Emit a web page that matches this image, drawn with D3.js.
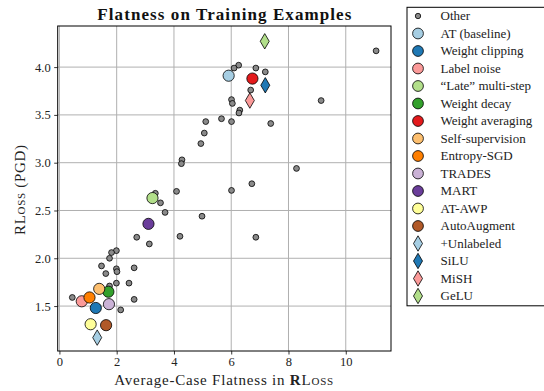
<!DOCTYPE html>
<html>
<head>
<meta charset="utf-8">
<script src="https://cdn.jsdelivr.net/npm/d3@7"></script>
<style>
  html, body { margin: 0; padding: 0; background: #fff; }
  svg { display: block; }
  svg text { font-family: "Liberation Serif", "Times New Roman", serif; }
</style>
</head>
<body>
<svg id="chart" width="544" height="391"></svg>
<script>
// Runs from other training configurations (grey dots)
const otherX = [11.06, 6.26, 6.10, 6.86, 7.19, 6.68, 6.01, 6.04, 6.30, 6.27, 9.14, 5.11, 5.66, 6.01, 7.38,
  5.06, 4.94, 4.28, 4.26, 8.28, 4.09, 6.01, 6.72, 3.35, 3.53, 3.69, 4.98, 2.70, 4.21, 6.86, 3.14,
  1.99, 1.82, 1.75, 1.47, 1.99, 2.01, 2.61, 1.62, 1.99, 2.43, 1.75, 2.61, 0.45, 2.14];
const otherY = [4.17, 4.02, 3.99, 3.99, 3.95, 3.76, 3.66, 3.62, 3.55, 3.52, 3.65, 3.43, 3.46, 3.43, 3.41,
  3.31, 3.20, 3.03, 2.99, 2.94, 2.70, 2.71, 2.78, 2.68, 2.58, 2.48, 2.44, 2.22, 2.23, 2.22, 2.15,
  2.08, 2.06, 2.00, 1.92, 1.89, 1.86, 1.90, 1.84, 1.74, 1.74, 1.71, 1.57, 1.59, 1.46];

// Highlighted methods
const methodNames = ["AT (baseline)", "Weight clipping", "Label noise", "\u201CLate\u201D multi-step",
  "Weight decay", "Weight averaging", "Self-supervision", "Entropy-SGD", "TRADES", "MART",
  "AT-AWP", "AutoAugment", "+Unlabeled", "SiLU", "MiSH", "GeLU"];
const methodX = [5.91, 1.27, 0.78, 3.25, 1.71, 6.74, 1.39, 1.05, 1.73, 3.11, 1.09, 1.63, 1.32, 7.19, 6.65, 7.17];
const methodY = [3.91, 1.48, 1.55, 2.63, 1.65, 3.88, 1.68, 1.59, 1.52, 2.36, 1.31, 1.30, 1.17, 3.81, 3.65, 4.27];

const xTicks = [0, 2, 4, 6, 8, 10];
const yTicks = [1.5, 2.0, 2.5, 3.0, 3.5, 4.0];

// Styling
const palette = ["#a6cee3", "#1f78b4", "#fb9a99", "#b2df8a", "#33a02c", "#e31a1c", "#fdbf6f", "#ff7f00",
  "#cab2d6", "#6a3d9a", "#ffff99", "#b15928", "#a6cee3", "#1f78b4", "#fb9a99", "#b2df8a"];
const shapes = ["circle", "circle", "circle", "circle", "circle", "circle", "circle", "circle",
  "circle", "circle", "circle", "circle", "diamond", "diamond", "diamond", "diamond"];

const svg = d3.select("#chart");
const m = { left: 57.7, right: 391, top: 26, bottom: 351 };

const x = d3.scaleLinear().domain([-0.06, 11.58]).range([m.left, m.right]);
const y = d3.scaleLinear().domain([1.03, 4.43]).range([m.bottom, m.top]);

// Grid
const grid = svg.append("g");
grid.selectAll(".gx").data(xTicks).join("line")
  .attr("x1", d => x(d)).attr("x2", d => x(d))
  .attr("y1", m.top).attr("y2", m.bottom)
  .attr("stroke", "#b0b0b0").attr("stroke-width", 1);
grid.selectAll(".gy").data(yTicks).join("line")
  .attr("y1", d => y(d)).attr("y2", d => y(d))
  .attr("x1", m.left).attr("x2", m.right)
  .attr("stroke", "#b0b0b0").attr("stroke-width", 1);

// Axes
const fmt = d3.format(".1f");
const xAxis = svg.append("g").attr("transform", `translate(0,${m.bottom})`)
  .call(d3.axisBottom(x).tickValues(xTicks).tickFormat(d3.format("d")).tickSize(3.5).tickPadding(3));
const yAxis = svg.append("g").attr("transform", `translate(${m.left},0)`)
  .call(d3.axisLeft(y).tickValues(yTicks).tickFormat(fmt).tickSize(3.5).tickPadding(3.5));
[xAxis, yAxis].forEach(a => {
  a.attr("font-family", null).attr("font-size", null);
  a.select(".domain").remove();
  a.selectAll("line").attr("stroke", "#000").attr("stroke-width", 0.8);
  a.selectAll("text").style("font-family", "'Liberation Serif', serif")
    .style("font-size", "12.5px").attr("fill", "#222");
});

// Frame
svg.append("rect").attr("x", m.left).attr("y", m.top)
  .attr("width", m.right - m.left).attr("height", m.bottom - m.top)
  .attr("fill", "none").attr("stroke", "#000").attr("stroke-width", 1);

// Marker helpers
const diamondPath = (cx, cy, w, h) => `M${cx},${cy - h}L${cx + w},${cy}L${cx},${cy + h}L${cx - w},${cy}Z`;

// Grey points
svg.append("g").selectAll("circle").data(d3.range(otherX.length)).join("circle")
  .attr("cx", i => x(otherX[i])).attr("cy", i => y(otherY[i])).attr("r", 2.9)
  .attr("fill", "#8a8a8a").attr("stroke", "#000").attr("stroke-width", 0.8);

// Method markers
const mg = svg.append("g");
d3.range(methodNames.length).forEach(i => {
  const cx = x(methodX[i]), cy = y(methodY[i]);
  if (shapes[i] === "circle") {
    mg.append("circle").attr("cx", cx).attr("cy", cy).attr("r", 5.6)
      .attr("fill", palette[i]).attr("stroke", "#000").attr("stroke-width", 0.8);
  } else {
    mg.append("path").attr("d", diamondPath(cx, cy, 4.5, 7.7))
      .attr("fill", palette[i]).attr("stroke", "#000").attr("stroke-width", 0.8);
  }
});

// Title and axis labels
svg.append("text").attr("x", (m.left + m.right) / 2).attr("y", 19.5)
  .attr("text-anchor", "middle").attr("font-weight", "bold").attr("font-size", 17)
  .attr("fill", "#111").attr("textLength", 254).attr("lengthAdjust", "spacing")
  .text("Flatness on Training Examples");

const xl = svg.append("text").attr("x", 223.7).attr("y", 385)
  .attr("text-anchor", "middle").attr("font-size", 15).attr("fill", "#222")
  .attr("textLength", 219).attr("lengthAdjust", "spacing");
xl.append("tspan").text("Average-Case Flatness in ");
xl.append("tspan").attr("font-weight", "bold").text("R");
xl.append("tspan").style("font-variant", "small-caps").text("Loss");

const yl = svg.append("text").attr("transform", "translate(25,190) rotate(-90)")
  .attr("text-anchor", "middle").attr("font-size", 15).attr("fill", "#222")
  .attr("textLength", 90).attr("lengthAdjust", "spacing");
yl.append("tspan").text("R");
yl.append("tspan").style("font-variant", "small-caps").text("Loss");
yl.append("tspan").text(" (PGD)");

// Legend
const lg = svg.append("g");
lg.append("rect").attr("x", 407).attr("y", 7.3).attr("width", 160).attr("height", 298.5)
  .attr("fill", "#fff").attr("stroke", "#000").attr("stroke-width", 1);
const legendNames = ["Other"].concat(methodNames);
const rowY = i => 16 + i * 17.5;
legendNames.forEach((name, i) => {
  const cy = rowY(i), cx = 418;
  if (i === 0) {
    lg.append("circle").attr("cx", cx).attr("cy", cy).attr("r", 2.7)
      .attr("fill", "#8a8a8a").attr("stroke", "#000").attr("stroke-width", 0.8);
  } else if (shapes[i - 1] === "circle") {
    lg.append("circle").attr("cx", cx).attr("cy", cy).attr("r", 5.4)
      .attr("fill", palette[i - 1]).attr("stroke", "#000").attr("stroke-width", 0.8);
  } else {
    lg.append("path").attr("d", diamondPath(cx, cy, 4.5, 7.7))
      .attr("fill", palette[i - 1]).attr("stroke", "#000").attr("stroke-width", 0.8);
  }
  lg.append("text").attr("x", 440.5).attr("y", cy).attr("dy", "0.33em")
    .attr("font-size", 13).attr("fill", "#222").text(name);
});
</script>
</body>
</html>
